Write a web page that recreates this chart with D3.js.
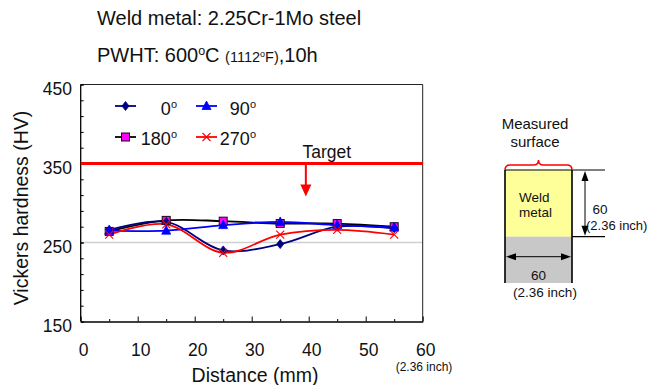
<!DOCTYPE html>
<html>
<head>
<meta charset="utf-8">
<script src="https://cdn.jsdelivr.net/npm/d3@7"></script>
<style>
  html, body { margin: 0; padding: 0; background: #fff; }
  svg { display: block; font-family: "Liberation Sans", Arial, Helvetica, sans-serif; }
</style>
</head>
<body>
<svg id="chart" width="648" height="385"></svg>
<script>
// Measurement positions along the weld (mm)
const distances = [5, 15, 25, 35, 45, 55];

// Vickers hardness (HV) at each circumferential position
const hv0   = [266, 276, 240, 248, 270, 268];
const hv90  = [265, 265, 272, 276, 272, 269];
const hv180 = [264, 278, 277, 274, 274, 270];
const hv270 = [260, 273, 237, 260, 266, 260];

const seriesNames = ["0", "90", "180", "270"];
const yTicks = [150, 250, 350, 450];
const xTicks = [0, 10, 20, 30, 40, 50, 60];
const targetHV = 350;
const refHV = 250;

const svg = d3.select("#chart");

const x = d3.scaleLinear().domain([0, 60]).range([80.7, 422.7]);
const y = d3.scaleLinear().domain([150, 450]).range([321.5, 84.5]);

// Title lines
svg.append("text").attr("x", 97).attr("y", 25)
  .attr("font-size", 20).attr("fill", "#111")
  .text("Weld metal: 2.25Cr-1Mo steel");

const t2 = svg.append("text").attr("x", 97).attr("y", 62)
  .attr("font-size", 20).attr("fill", "#111");
t2.append("tspan").text("PWHT: 600");
t2.append("tspan").attr("font-size", 12.5).attr("dy", -7).text("o");
t2.append("tspan").attr("dy", 7).text("C ");
t2.append("tspan").attr("font-size", 14.5).text("(1112");
t2.append("tspan").attr("font-size", 9).attr("dy", -5).text("o");
t2.append("tspan").attr("font-size", 14.5).attr("dy", 5).text("F)");
t2.append("tspan").text(",10h");

// Reference gridline at 250 HV
svg.append("line")
  .attr("x1", x(0)).attr("x2", x(60))
  .attr("y1", y(refHV)).attr("y2", y(refHV))
  .attr("stroke", "#cfcfcf").attr("stroke-width", 1.5);

// Plot frame (top and right)
svg.append("path")
  .attr("d", `M${x(0)},${y(450)}H${x(60)}V${y(150)}`)
  .attr("fill", "none").attr("stroke", "#222").attr("stroke-width", 1);

// Y axis with inward ticks every 20 HV
const yAxis = d3.axisRight(y)
  .tickValues(d3.range(150, 451, 20).concat(yTicks))
  .tickSize(3).tickFormat("");
const gy = svg.append("g").attr("transform", `translate(${x(0)},0)`).call(yAxis);
gy.select(".domain").attr("stroke", "#000").attr("stroke-width", 1.3).attr("d", `M0,${y(450)}V${y(150)}`);
gy.selectAll(".tick line").attr("stroke", "#000");

svg.append("g").selectAll("text").data(yTicks).join("text")
  .attr("x", 72).attr("y", d => y(d) + 10)
  .attr("text-anchor", "end").attr("font-size", 17.5).attr("fill", "#111")
  .text(d => d);

// X axis with inward ticks every 5 mm
const xAxis = d3.axisTop(x).tickValues(d3.range(0, 61, 5)).tickSizeInner(0).tickSizeOuter(0).tickFormat("");
const gx = svg.append("g").attr("transform", `translate(0,${y(150)})`).call(xAxis);
gx.select(".domain").attr("stroke", "#000").attr("stroke-width", 1.3);
gx.selectAll(".tick line")
  .attr("y2", d => (d % 10 === 0 ? -5 : -2.5))
  .attr("stroke", "#000");

svg.append("g").selectAll("text").data(xTicks).join("text")
  .attr("x", d => x(d) + 3).attr("y", 356)
  .attr("text-anchor", "middle").attr("font-size", 17.5).attr("fill", "#111")
  .text(d => d);

svg.append("text").attr("x", 424).attr("y", 371)
  .attr("text-anchor", "middle").attr("font-size", 12).attr("fill", "#111")
  .text("(2.36 inch)");

// Axis titles
svg.append("text").attr("x", 255).attr("y", 382)
  .attr("text-anchor", "middle").attr("font-size", 19.5).attr("fill", "#111")
  .text("Distance (mm)");

svg.append("text")
  .attr("transform", `translate(28,${208}) rotate(-90)`)
  .attr("text-anchor", "middle").attr("font-size", 19.5).attr("fill", "#111")
  .text("Vickers hardness (HV)");

// Target line and arrow
svg.append("line")
  .attr("x1", x(0)).attr("x2", x(60))
  .attr("y1", y(targetHV)).attr("y2", y(targetHV))
  .attr("stroke", "#ff0000").attr("stroke-width", 3.2);

const arrowX = x(39.5);
svg.append("line")
  .attr("x1", arrowX).attr("x2", arrowX)
  .attr("y1", y(targetHV)).attr("y2", y(targetHV) + 22)
  .attr("stroke", "#ff0000").attr("stroke-width", 2);
svg.append("path")
  .attr("d", `M${arrowX - 5.5},${y(targetHV) + 21}L${arrowX + 5.5},${y(targetHV) + 21}L${arrowX},${y(targetHV) + 33}Z`)
  .attr("fill", "#ff0000");
svg.append("text").attr("x", arrowX + 21).attr("y", y(targetHV) - 6)
  .attr("text-anchor", "middle").attr("font-size", 17.5).attr("fill", "#111")
  .text("Target");

// Series
const series = [
  { name: seriesNames[0], values: hv0,   line: "#000080", marker: "diamond" },
  { name: seriesNames[1], values: hv90,  line: "#0000ff", marker: "triangle" },
  { name: seriesNames[2], values: hv180, line: "#000000", marker: "square" },
  { name: seriesNames[3], values: hv270, line: "#ff0000", marker: "cross" }
];

const lineGen = d3.line()
  .x((d, i) => x(distances[i]))
  .y(d => y(d))
  .curve(d3.curveCatmullRom.alpha(0.5));

const lines = svg.append("g");
[2, 0, 1, 3].forEach(k => {
  lines.append("path")
    .attr("d", lineGen(series[k].values))
    .attr("fill", "none")
    .attr("stroke", series[k].line)
    .attr("stroke-width", 1.8);
});

function drawMarker(g, type, cx, cy) {
  if (type === "diamond") {
    g.append("path").attr("d", `M${cx},${cy - 4.5}L${cx + 3.5},${cy}L${cx},${cy + 4.5}L${cx - 3.5},${cy}Z`)
      .attr("fill", "#000080").attr("stroke", "#000080").attr("stroke-width", 0.8);
  } else if (type === "triangle") {
    g.append("path").attr("d", `M${cx},${cy - 5}L${cx + 4.5},${cy + 3.5}L${cx - 4.5},${cy + 3.5}Z`)
      .attr("fill", "#0000ff").attr("stroke", "#0000ff").attr("stroke-width", 0.8);
  } else if (type === "square") {
    g.append("rect").attr("x", cx - 4).attr("y", cy - 4).attr("width", 8).attr("height", 8)
      .attr("fill", "#ff00ff").attr("stroke", "#111").attr("stroke-width", 1);
  } else {
    g.append("path").attr("d", `M${cx - 4},${cy - 4}L${cx + 4},${cy + 4}M${cx - 4},${cy + 4}L${cx + 4},${cy - 4}`)
      .attr("stroke", "#ff0000").attr("stroke-width", 1.1);
  }
}

const markers = svg.append("g");
[2, 0, 1, 3].forEach(k => {
  series[k].values.forEach((v, i) => drawMarker(markers, series[k].marker, x(distances[i]), y(v)));
});

// Legend
const legendPos = [
  { lx: 115, ly: 106, tx: 177, ty: 115 },
  { lx: 196, ly: 106, tx: 256, ty: 115 },
  { lx: 115, ly: 137, tx: 177, ty: 145 },
  { lx: 196, ly: 137, tx: 256, ty: 145 }
];
const legend = svg.append("g");
series.forEach((s, k) => {
  const p = legendPos[k];
  legend.append("line").attr("x1", p.lx).attr("x2", p.lx + 21)
    .attr("y1", p.ly).attr("y2", p.ly)
    .attr("stroke", s.line).attr("stroke-width", 1.8);
  drawMarker(legend, s.marker, p.lx + 10.5, p.ly);
  const t = legend.append("text").attr("x", p.tx).attr("y", p.ty)
    .attr("text-anchor", "end").attr("font-size", 18).attr("fill", "#111");
  t.append("tspan").text(s.name);
  t.append("tspan").attr("font-size", 11).attr("dy", -7).text("o");
});

// Specimen sketch
const sk = svg.append("g");
const L = 505, R = 572, T = 170, M = 236.7, B = 283;
sk.append("rect").attr("x", L).attr("y", T).attr("width", R - L).attr("height", M - T).attr("fill", "#ffff99");
sk.append("rect").attr("x", L).attr("y", M).attr("width", R - L).attr("height", B - M).attr("fill", "#c8c8c8");
sk.append("path").attr("d", `M${L},${T}H605M${R},${M}H605`)
  .attr("fill", "none").attr("stroke", "#000").attr("stroke-width", 1.2);
// Measured surface brace
const bm = (L + R) / 2;
sk.append("path")
  .attr("d", `M${L},${T}Q${L},${T - 5} ${L + 5},${T - 5}L${bm - 5},${T - 5}Q${bm},${T - 5} ${bm},${T - 10}Q${bm},${T - 5} ${bm + 5},${T - 5}L${R - 5},${T - 5}Q${R},${T - 5} ${R},${T}`)
  .attr("fill", "none").attr("stroke", "#ff0000").attr("stroke-width", 1.5);

// Side borders
sk.append("path").attr("d", `M${L},${T}V${B}M${R},${T}V${B}`)
  .attr("stroke", "#000").attr("stroke-width", 1.6);

// Dimension arrows
const ax = 585;
sk.append("line").attr("x1", ax).attr("x2", ax).attr("y1", T + 8).attr("y2", M - 8).attr("stroke", "#000").attr("stroke-width", 1);
sk.append("path").attr("d", `M${ax},${T + 1}L${ax + 3.5},${T + 11}L${ax - 3.5},${T + 11}Z`).attr("fill", "#000");
sk.append("path").attr("d", `M${ax},${M - 1}L${ax + 3.5},${M - 11}L${ax - 3.5},${M - 11}Z`).attr("fill", "#000");
const ay = 256.7;
sk.append("line").attr("x1", L + 8).attr("x2", R - 8).attr("y1", ay).attr("y2", ay).attr("stroke", "#000").attr("stroke-width", 1);
sk.append("path").attr("d", `M${L + 1},${ay}L${L + 11},${ay - 3.5}L${L + 11},${ay + 3.5}Z`).attr("fill", "#000");
sk.append("path").attr("d", `M${R - 1},${ay}L${R - 11},${ay - 3.5}L${R - 11},${ay + 3.5}Z`).attr("fill", "#000");

// Sketch labels
const lbl = (tx, ty, s, size, anchor) => sk.append("text").attr("x", tx).attr("y", ty)
  .attr("font-size", size).attr("text-anchor", anchor || "start").attr("fill", "#111").text(s);
lbl(535, 129, "Measured", 15, "middle");
lbl(535, 147, "surface", 15, "middle");
lbl(519, 201.5, "Weld", 13.5);
lbl(519, 216.5, "metal", 13.5);
lbl(600, 213.5, "60", 13.5, "middle");
lbl(586, 230, "(2.36 inch)", 13);
lbl(538.5, 280, "60", 13.5, "middle");
lbl(545, 297, "(2.36 inch)", 13.5, "middle");
</script>
</body>
</html>
